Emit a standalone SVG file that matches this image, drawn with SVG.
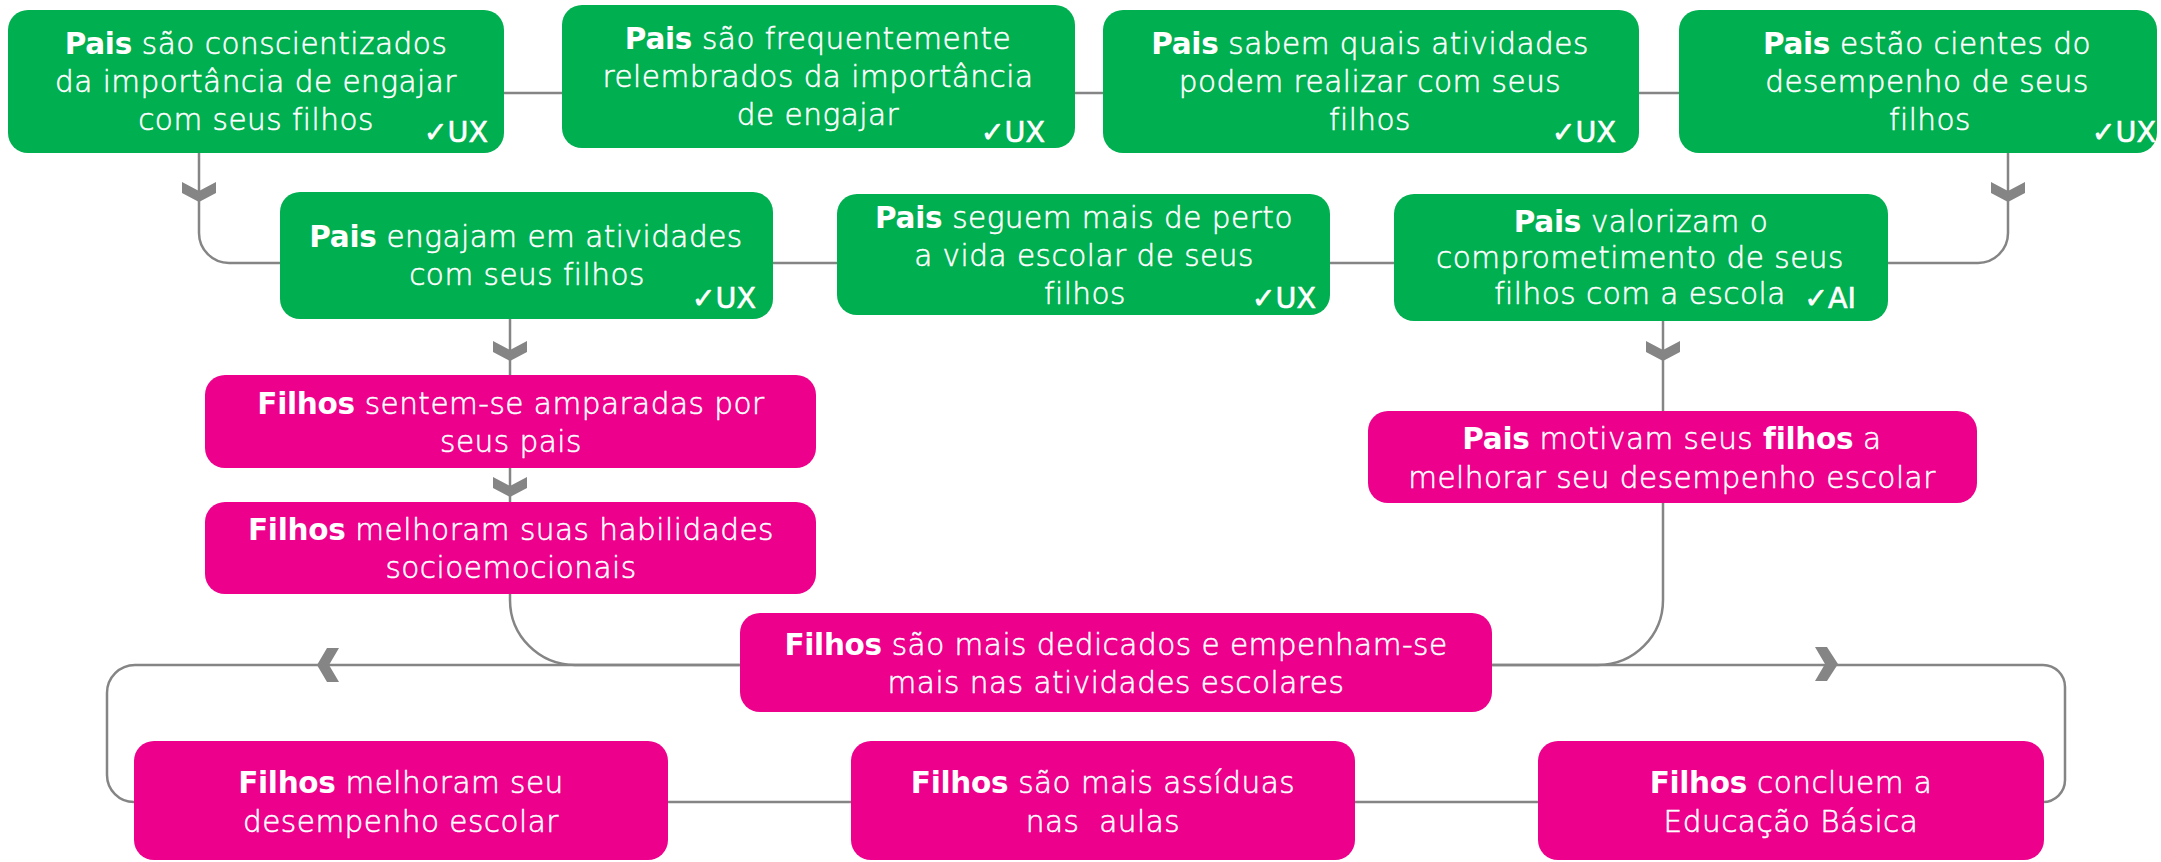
<svg xmlns="http://www.w3.org/2000/svg" width="2161" height="862" viewBox="0 0 2161 862">
<defs>
<style>
.g{fill:#00AF50}
.p{fill:#EC008C}
.t{font-family:"DejaVu Sans","Open Sans",sans-serif;font-weight:200;font-size:29.5px;fill:#fff;stroke:#fff;stroke-width:0.55;text-anchor:middle;letter-spacing:0.5px}
.b{font-weight:700;letter-spacing:-0.3px;stroke-width:0}
.ck{font-family:"DejaVu Sans",sans-serif;font-weight:400;font-size:28.5px;fill:#fff;stroke:#fff;stroke-width:0.6;text-anchor:end}
.ln{fill:none;stroke:#858585;stroke-width:2.5}
.ch{fill:#858585}
</style>
<polygon id="chd" points="-17,-10 0,-1 17,-10 17,1 0,10 -17,1"/>
</defs>
<rect width="2161" height="862" fill="#fff"/>
<g id="connectors">
<path class="ln" d="M504,93 H1679"/>
<path class="ln" d="M199,153 V233 A30,30 0 0 0 229,263 H280"/>
<path class="ln" d="M773,263 H837 M1330,263 H1394"/>
<path class="ln" d="M2008,153 V233 A30,30 0 0 1 1978,263 H1888"/>
<path class="ln" d="M510,319 V375 M510,468 V502"/>
<path class="ln" d="M510,594 V600 A65,65 0 0 0 575,665 H740"/>
<path class="ln" d="M1663,321 V411"/>
<path class="ln" d="M1663,503 V600 A65,65 0 0 1 1598,665 H1492"/>
<path class="ln" d="M740,665 H135 A28,28 0 0 0 107,693 V775 A27,27 0 0 0 134,802 H134"/>
<path class="ln" d="M668,802 H851 M1355,802 H1538"/>
<path class="ln" d="M1492,665 H2043 A22,22 0 0 1 2065,687 V780 A22,22 0 0 1 2043,802 H2044"/>
<use href="#chd" class="ch" x="199" y="192"/>
<use href="#chd" class="ch" x="2008" y="192"/>
<use href="#chd" class="ch" x="510" y="351"/>
<use href="#chd" class="ch" x="510" y="487"/>
<use href="#chd" class="ch" x="1663" y="351"/>
<polygon class="ch" points="327,648 339,648 329,665 339,682 327,682 317,665"/>
<polygon class="ch" points="1815,647 1827,647 1838,664 1827,681 1815,681 1825,664"/>
</g>
<g id="n1">
<rect class="g" x="8" y="10" width="496" height="143" rx="20"/>
<text class="t"><tspan x="256" y="54"><tspan class="b">Pais</tspan> são conscientizados</tspan><tspan x="256" y="92">da importância de engajar</tspan><tspan x="256" y="130">com seus filhos</tspan></text>
<text class="ck" x="488" y="142">✓UX</text>
</g>
<g id="n2">
<rect class="g" x="562" y="5" width="513" height="143" rx="20"/>
<text class="t"><tspan x="818" y="49"><tspan class="b">Pais</tspan> são frequentemente</tspan><tspan x="818" y="87">relembrados da importância</tspan><tspan x="818" y="125">de engajar</tspan></text>
<text class="ck" x="1045" y="142">✓UX</text>
</g>
<g id="n3">
<rect class="g" x="1103" y="10" width="536" height="143" rx="20"/>
<text class="t"><tspan x="1370" y="54"><tspan class="b">Pais</tspan> sabem quais atividades</tspan><tspan x="1370" y="92">podem realizar com seus</tspan><tspan x="1370" y="130">filhos</tspan></text>
<text class="ck" x="1616" y="142">✓UX</text>
</g>
<g id="n4">
<rect class="g" x="1679" y="10" width="478" height="143" rx="20"/>
<text class="t"><tspan x="1927" y="54"><tspan class="b">Pais</tspan> estão cientes do</tspan><tspan x="1927" y="92">desempenho de seus</tspan><tspan x="1930" y="130">filhos</tspan></text>
<text class="ck" x="2156" y="142">✓UX</text>
</g>
<g id="n5">
<rect class="g" x="280" y="192" width="493" height="127" rx="20"/>
<text class="t"><tspan x="526" y="247"><tspan class="b">Pais</tspan> engajam em atividades</tspan><tspan x="527" y="285">com seus filhos</tspan></text>
<text class="ck" x="756" y="308">✓UX</text>
</g>
<g id="n6">
<rect class="g" x="837" y="194" width="493" height="121" rx="20"/>
<text class="t"><tspan x="1084" y="228"><tspan class="b">Pais</tspan> seguem mais de perto</tspan><tspan x="1084" y="266">a vida escolar de seus</tspan><tspan x="1085" y="304">filhos</tspan></text>
<text class="ck" x="1316" y="308">✓UX</text>
</g>
<g id="n7">
<rect class="g" x="1394" y="194" width="494" height="127" rx="20"/>
<text class="t"><tspan x="1641" y="232"><tspan class="b">Pais</tspan> valorizam o</tspan><tspan x="1640" y="268">comprometimento de seus</tspan><tspan x="1640" y="304">filhos com a escola</tspan></text>
<text class="ck" x="1856" y="308">✓AI</text>
</g>
<g id="n8">
<rect class="p" x="205" y="375" width="611" height="93" rx="20"/>
<text class="t"><tspan x="511" y="414"><tspan class="b">Filhos</tspan> sentem-se amparadas por</tspan><tspan x="511" y="452">seus pais</tspan></text>
</g>
<g id="n9">
<rect class="p" x="205" y="502" width="611" height="92" rx="20"/>
<text class="t"><tspan x="511" y="540"><tspan class="b">Filhos</tspan> melhoram suas habilidades</tspan><tspan x="511" y="578">socioemocionais</tspan></text>
</g>
<g id="n10">
<rect class="p" x="1368" y="411" width="609" height="92" rx="20"/>
<text class="t"><tspan x="1672" y="449"><tspan class="b">Pais</tspan> motivam seus <tspan class="b">filhos</tspan> a</tspan><tspan x="1672" y="488">melhorar seu desempenho escolar</tspan></text>
</g>
<g id="n11">
<rect class="p" x="740" y="613" width="752" height="99" rx="20"/>
<text class="t"><tspan x="1116" y="655"><tspan class="b">Filhos</tspan> são mais dedicados e empenham-se</tspan><tspan x="1116" y="693">mais nas atividades escolares</tspan></text>
</g>
<g id="n12">
<rect class="p" x="134" y="741" width="534" height="119" rx="20"/>
<text class="t"><tspan x="401" y="793"><tspan class="b">Filhos</tspan> melhoram seu</tspan><tspan x="401" y="832">desempenho escolar</tspan></text>
</g>
<g id="n13">
<rect class="p" x="851" y="741" width="504" height="119" rx="20"/>
<text class="t"><tspan x="1103" y="793"><tspan class="b">Filhos</tspan> são mais assíduas</tspan><tspan x="1103" y="832">nas&#160; aulas</tspan></text>
</g>
<g id="n14">
<rect class="p" x="1538" y="741" width="506" height="119" rx="20"/>
<text class="t"><tspan x="1791" y="793"><tspan class="b">Filhos</tspan> concluem a</tspan><tspan x="1791" y="832">Educação Básica</tspan></text>
</g>
</svg>
